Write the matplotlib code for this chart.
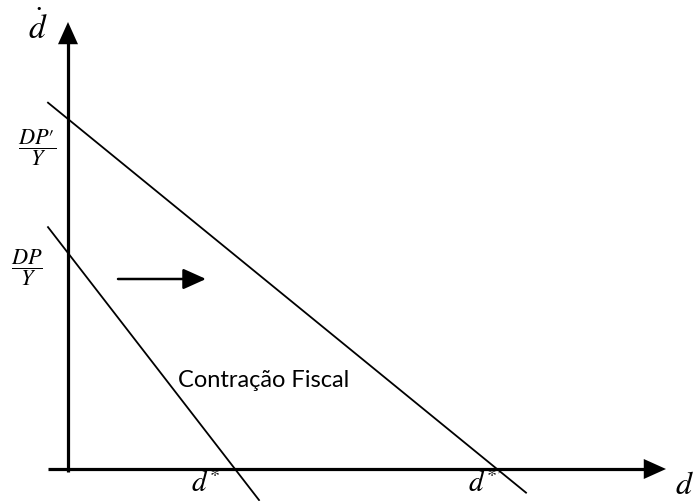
import matplotlib
matplotlib.use('Agg')
import matplotlib.pyplot as plt

plt.rcParams['mathtext.fontset'] = 'stix'

# diagram data (arbitrary units, origin at the axes crossing)
intercepts = [216, 350]          # DP/Y, DP'/Y on the vertical axis
roots = [167, 429]               # d*, d*' on the horizontal axis
line_start = -20                 # lines begin left of the vertical axis
line_end = [191, 458]
intercept_labels = [r'$\dfrac{DP}{Y}$', r'$\dfrac{DP\prime}{Y}$']
root_labels = [r'$d^{*}$', r"$d^{*\prime}$"]
shift_arrow = [50, 138, 190]     # x from, x to, y
caption = 'Contração Fiscal'

fig = plt.figure(figsize=(6.94, 5.01), dpi=100)
ax = fig.add_axes([0, 0, 1, 1])
ax.set_xlim(-68, 626)
ax.set_ylim(-32, 469)
ax.axis('off')

# axes with arrow heads
ax.plot([line_start, 590], [0, 0], color='black', lw=2.3, solid_capstyle='butt')
ax.plot([0, 0], [-3, 440], color='black', lw=2.3, solid_capstyle='butt')
ax.annotate('', xy=(598, 0), xytext=(575, 0),
            arrowprops=dict(arrowstyle='-|>,head_length=1.0,head_width=0.45',
                            mutation_scale=16, color='black', lw=0, shrinkA=0, shrinkB=0))
ax.annotate('', xy=(0, 447), xytext=(0, 420),
            arrowprops=dict(arrowstyle='-|>,head_length=1.0,head_width=0.45',
                            mutation_scale=16, color='black', lw=0, shrinkA=0, shrinkB=0))

# the two lines
for b, r, xe in zip(intercepts, roots, line_end):
    slope = -b / r
    ax.plot([line_start, xe], [b + slope * line_start, b + slope * xe],
            color='black', lw=1.3)

# labels
ax.text(-30, 441, r'$\dot{d}$', fontsize=24, ha='center', va='center')
ax.text(616, -16, r'$d$', fontsize=23, ha='center', va='center')
ax.text(-41, 201, intercept_labels[0], fontsize=16, ha='center', va='center')
ax.text(-31, 321, intercept_labels[1], fontsize=16, ha='center', va='center')
ax.text(roots[0] - 30, -15, root_labels[0], fontsize=21, ha='center', va='center')
ax.text(roots[1] - 12, -15, root_labels[1], fontsize=21, ha='center', va='center')

# shift arrow and caption
ax.annotate('', xy=(shift_arrow[1], shift_arrow[2]), xytext=(shift_arrow[0], shift_arrow[2]),
            arrowprops=dict(arrowstyle='-|>,head_length=1.0,head_width=0.45',
                            mutation_scale=14, color='black', lw=1.8, shrinkA=0, shrinkB=0))
ax.text(110, 82, caption, fontsize=17, family='Lato', ha='left', va='baseline')

fig.savefig('out.png', dpi=100)
